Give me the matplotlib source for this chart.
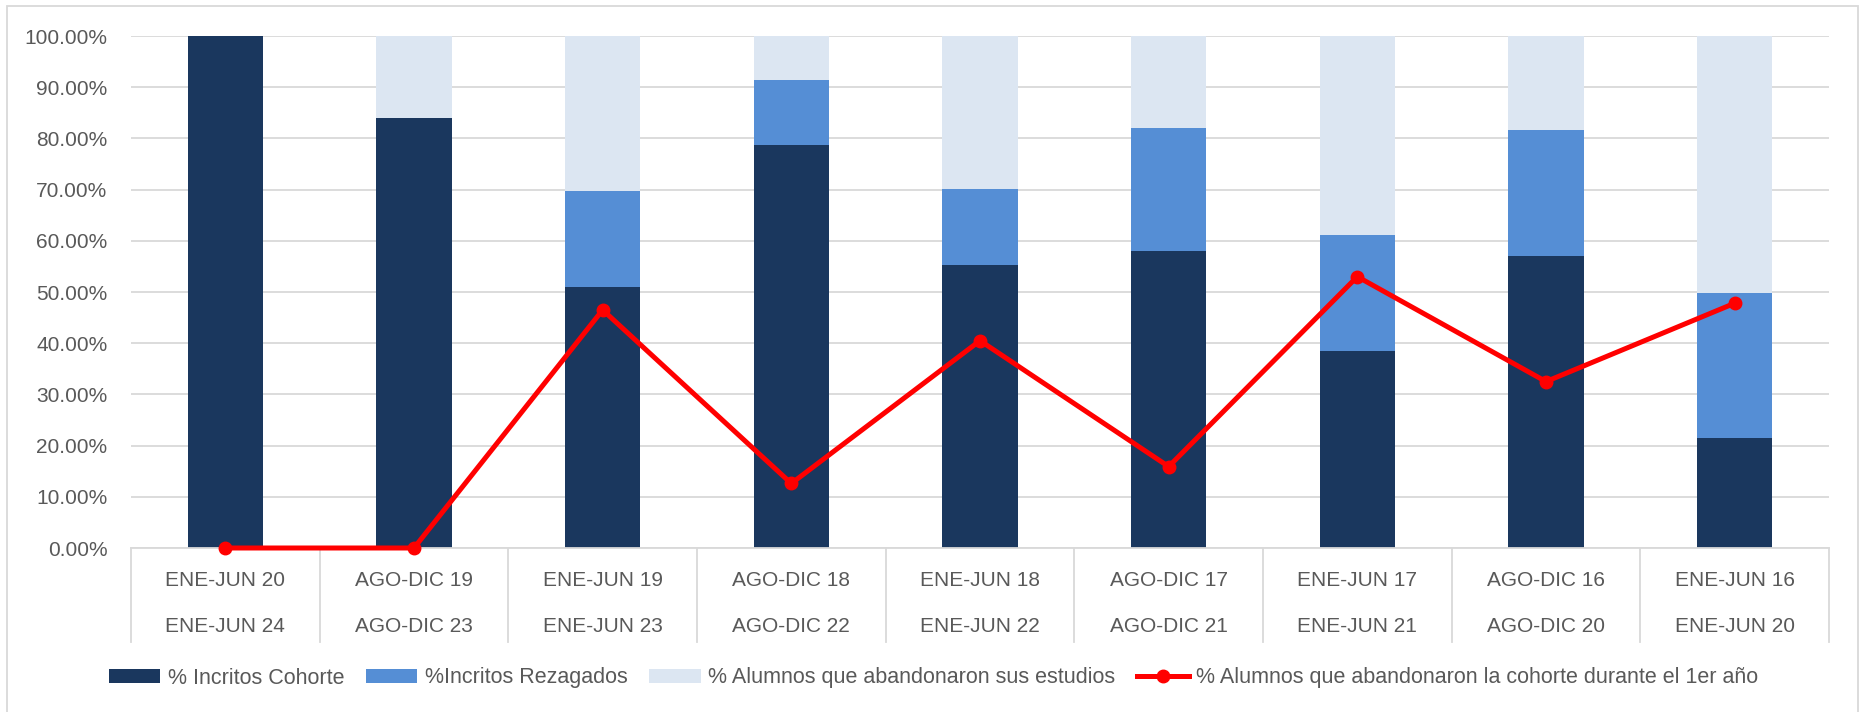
import matplotlib
matplotlib.use("Agg")
import matplotlib.pyplot as plt
from matplotlib.patches import Rectangle
import matplotlib.transforms as mtransforms

# datos (porcentajes)
periodo_ingreso = ["ENE-JUN 20", "AGO-DIC 19", "ENE-JUN 19", "AGO-DIC 18", "ENE-JUN 18",
                   "AGO-DIC 17", "ENE-JUN 17", "AGO-DIC 16", "ENE-JUN 16"]
periodo_egreso = ["ENE-JUN 24", "AGO-DIC 23", "ENE-JUN 23", "AGO-DIC 22", "ENE-JUN 22",
                  "AGO-DIC 21", "ENE-JUN 21", "AGO-DIC 20", "ENE-JUN 20"]
cohorte = [100.0, 84.0, 51.0, 78.8, 55.2, 58.0, 38.5, 57.1, 21.5]
rezagados = [0.0, 0.0, 18.7, 12.7, 15.0, 24.0, 22.6, 24.5, 28.3]
abandono = [0.0, 16.0, 30.3, 8.5, 29.8, 18.0, 38.9, 18.4, 50.2]
abandono_1er = [0.0, 0.0, 46.5, 12.6, 40.5, 15.9, 53.0, 32.5, 47.8]

c_coh = "#1a375e"
c_rez = "#558ed5"
c_aba = "#dce6f2"
c_txt = "#595959"
c_grid = "#d9d9d9"

plt.rcParams["font.family"] = ["Liberation Sans", "DejaVu Sans"]

fig = plt.figure(figsize=(18.67, 7.12), dpi=100)
ax = fig.add_axes([131/1867, 1-548/712, (1829-131)/1867, 512/712])

x = list(range(len(cohorte)))
base2 = [a + b for a, b in zip(cohorte, rezagados)]
ancho = 0.4
b1 = ax.bar(x, cohorte, ancho, color=c_coh, label="% Incritos Cohorte", zorder=2)
b2 = ax.bar(x, rezagados, ancho, bottom=cohorte, color=c_rez, label="%Incritos Rezagados", zorder=2)
b3 = ax.bar(x, abandono, ancho, bottom=base2, color=c_aba,
            label="% Alumnos que abandonaron sus estudios", zorder=2)
l1, = ax.plot(x, abandono_1er, color="#ff0000", lw=3.6, marker="o", ms=9,
              label="% Alumnos que abandonaron la cohorte durante el 1er año",
              zorder=4, clip_on=False)

ax.set_xlim(-0.5, len(x) - 0.5)
ax.set_ylim(0, 100)
ax.set_yticks(range(0, 101, 10))
ax.set_yticklabels(["{:.2f}%".format(v) for v in range(0, 101, 10)], fontsize=15, color=c_txt)
ax.tick_params(axis="y", length=0, pad=17)
ax.set_xticks([])
ax.yaxis.grid(True, color=c_grid, lw=1.3)
ax.set_axisbelow(True)
for s in ["top", "right", "left"]:
    ax.spines[s].set_visible(False)
ax.spines["bottom"].set_color(c_grid)
ax.spines["bottom"].set_linewidth(1.3)

# etiquetas de categoria en dos niveles
trans = mtransforms.blended_transform_factory(ax.transData, ax.transAxes)
for i in x:
    ax.text(i, -32/512, periodo_ingreso[i], transform=trans, ha="center", va="center",
            fontsize=15, color=c_txt)
    ax.text(i, -78/512, periodo_egreso[i], transform=trans, ha="center", va="center",
            fontsize=15, color=c_txt)
for i in range(len(x) + 1):
    ax.plot([i - 0.5, i - 0.5], [0, -94/512], transform=trans, color=c_grid, lw=1.3,
            clip_on=False)

fig.legend(handles=[b1, b2, b3, l1], loc="center", bbox_to_anchor=(0.5, 1-678/712), ncol=4,
           frameon=False, fontsize=15.5, labelcolor=c_txt, handlelength=2.4, handleheight=0.63,
           handletextpad=0.35, columnspacing=1.0)

# borde del grafico
fig.add_artist(Rectangle((7/1867, -0.01), (1858-7)/1867, 1.01-6/712, transform=fig.transFigure,
                         fill=False, edgecolor=c_grid, lw=1.3))

fig.savefig("out.png", dpi=100)
